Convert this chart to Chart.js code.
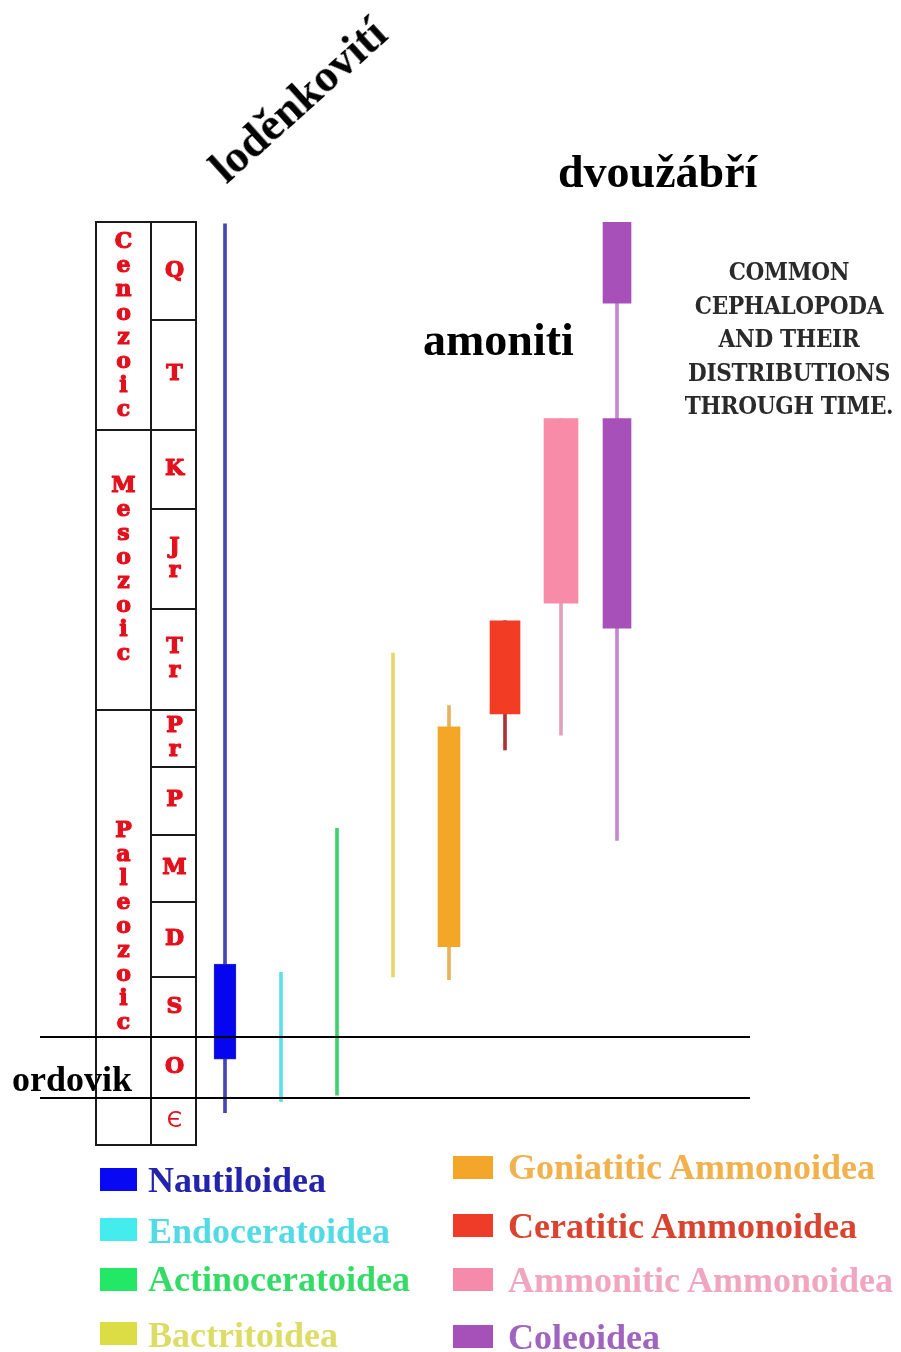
<!DOCTYPE html>
<html>
<head>
<meta charset="utf-8">
<script src="https://cdn.jsdelivr.net/npm/chart.js@4.4.1/dist/chart.umd.min.js"></script>
<style>
  html, body { margin:0; padding:0; background:#fff; }
  #wrap { position:relative; width:901px; height:1352px; overflow:hidden; background:#fff; }
  #c { position:absolute; left:0; top:0; }
  .t { position:absolute; white-space:nowrap; font-family:"Liberation Serif","Times New Roman",serif; font-weight:bold; color:#000; }
  .note { position:absolute; left:669px; top:255px; width:240px; text-align:center;
          font-family:"DejaVu Serif Condensed","DejaVu Serif",serif; font-weight:bold; font-size:24px;
          line-height:33.5px; color:#2a2a2a; letter-spacing:-0.3px; }
  .sw { position:absolute; }
  .lt { position:absolute; white-space:nowrap; font-family:"Liberation Serif","Times New Roman",serif;
        font-weight:bold; font-size:36px; line-height:36px; }
</style>
</head>
<body>
<div id="wrap">
  <canvas id="c" width="901" height="1352"></canvas>
  <div class="t" style="left:298px; top:100px; font-size:46px; line-height:46px; transform:translate(-50%,-50%) rotate(-42deg);">loděnkovití</div>
  <div class="t" style="left:558px; top:149px; font-size:46px; line-height:46px;">dvoužábří</div>
  <div class="t" style="left:423px; top:317px; font-size:46px; line-height:46px;">amoniti</div>
  <div class="t" style="left:12px; top:1061px; font-size:36px; line-height:36px;">ordovik</div>
  <div class="note">COMMON<br>CEPHALOPODA<br>AND THEIR<br>DISTRIBUTIONS<br>THROUGH TIME.</div>
  <div id="legend"></div>
</div>
<script>
// ---------------- DATA ----------------
// Taxa (categories), left to right
const taxa = ['Nautiloidea','Endoceratoidea','Actinoceratoidea','Bactritoidea',
              'Goniatitic Ammonoidea','Ceratitic Ammonoidea','Ammonitic Ammonoidea','Coleoidea'];

// Schematic stratigraphic position: 0 = base of Cambrian, 100 = present (top of column)
// Total known range of each taxon (thin line)
const rangeLow  = [3.5, 4.7, 5.4, 18.2, 17.9, 42.8, 44.4, 33.0];
const rangeHigh = [99.8, 18.7, 34.3, 53.3, 47.6, 56.8, 78.7, 100];

// Intervals of abundance (thick bars)
const abundanceTaxa = ['Nautiloidea','Goniatitic Ammonoidea','Ceratitic Ammonoidea',
                       'Ammonitic Ammonoidea','Coleoidea','Coleoidea'];
const abundanceLow  = [9.3, 21.5, 46.7, 58.7, 56.0, 91.2];
const abundanceHigh = [19.6, 45.3, 56.8, 78.7, 78.7, 100];

// Geological periods, bottom to top, with their base on the same schematic scale
const periods    = ['Є','O','S','D','M','P','Pr','Tr','Jr','K','T','Q'];
const periodBase = [0, 5.1, 11.7, 18.2, 26.3, 33.6, 41.0, 47.1, 58.1, 68.9, 77.5, 89.4];
const columnTop  = 100;
const eras       = ['Paleozoic','Mesozoic','Cenozoic'];
const eraBase    = [0, 47.1, 77.5];
const highlightedPeriod = 'O'; // ordovik

// ---------------- STYLES ----------------
const lineColors = ['#4646b2','#5fdfe6','#3fd170','#e6d86e','#e9b25c','#a83434','#e2a0ba','#c487d2'];
const barColors  = {'Nautiloidea':'#0505f0','Goniatitic Ammonoidea':'#f4a726','Ceratitic Ammonoidea':'#f23c24',
                    'Ammonitic Ammonoidea':'#f78ba8','Coleoidea':'#a750b9'};
const barWidths  = {'Nautiloidea':22,'Goniatitic Ammonoidea':22,'Ceratitic Ammonoidea':30,
                    'Ammonitic Ammonoidea':34,'Coleoidea':28};
const swatchColors = ['#0808f2','#44eced','#22e866','#dcdc44','#f4a62a','#ef3c28','#f58aaa','#a650ba'];
const textColors   = ['#2424aa','#52dbe4','#34db66','#dcdc66','#f1b14c','#d9432f','#f1a6bf','#a064bf'];
// legend layout: [swatchLeft, swatchTop, swatchW, swatchH, textLeft, baseline]
const legendLayout = [
  [100,1168,37,23,148,1192],[100,1218,37,23,148,1243],[100,1268,37,23,148,1291],[100,1322,37,23,148,1347],
  [453,1156,40,23,508,1179],[453,1214,40,23,508,1238],[453,1268,40,23,508,1292],[453,1325,40,23,508,1349]
];

// ---------------- LEGEND (HTML) ----------------
const lg = document.getElementById('legend');
taxa.forEach((t, i) => {
  const [sl, st, sw, sh, tl, bl] = legendLayout[i];
  const s = document.createElement('div');
  s.className = 'sw';
  s.style.cssText = `left:${sl}px;top:${st}px;width:${sw}px;height:${sh}px;background:${swatchColors[i]};`;
  lg.appendChild(s);
  const d = document.createElement('div');
  d.className = 'lt';
  d.style.cssText = `left:${tl}px;top:${bl - 30}px;color:${textColors[i]};`;
  d.textContent = t;
  lg.appendChild(d);
});

// ---------------- DATASETS ----------------
const datasets = [{
  label: 'range',
  data: taxa.map((t, i) => [rangeLow[i], rangeHigh[i]]),
  backgroundColor: lineColors,
  borderWidth: 0,
  barThickness: 3,
  order: 2
}];
[...new Set(abundanceTaxa)].forEach(t => {
  const pts = [];
  abundanceTaxa.forEach((a, i) => { if (a === t) pts.push({x: a, y: [abundanceLow[i], abundanceHigh[i]]}); });
  datasets.push({
    label: t,
    data: pts,
    backgroundColor: barColors[t],
    borderColor: t === 'Nautiloidea' ? '#2a2ab8' : barColors[t],
    borderWidth: t === 'Nautiloidea' ? 1 : 0,
    borderSkipped: false,
    barThickness: barWidths[t],
    order: 1
  });
});

// ---------------- GEOLOGIC COLUMN PLUGIN ----------------
const geoPlugin = {
  id: 'geo',
  afterDatasetsDraw(chart) {
    const y = chart.scales.y, ctx = chart.ctx;
    const colL = 96, colM = 151, colR = 196;
    const top = y.getPixelForValue(columnTop), bot = y.getPixelForValue(0);
    ctx.save();
    ctx.strokeStyle = '#1a1a1a';
    ctx.lineWidth = 2;
    ctx.beginPath();
    ctx.rect(colL, top, colR - colL, bot - top);
    ctx.moveTo(colM, top); ctx.lineTo(colM, bot);
    periodBase.forEach((b, i) => { if (i > 0) { const p = Math.round(y.getPixelForValue(b)); ctx.moveTo(colM, p); ctx.lineTo(colR, p); } });
    eraBase.forEach((b, i) => { if (i > 0) { const p = Math.round(y.getPixelForValue(b)); ctx.moveTo(colL, p); ctx.lineTo(colM, p); } });
    ctx.stroke();

    // labels (heavy red letters, stacked vertically)
    ctx.fillStyle = '#e3111d';
    ctx.strokeStyle = '#e3111d';
    ctx.lineWidth = 1.2;
    ctx.lineJoin = 'round';
    ctx.textAlign = 'center';
    ctx.textBaseline = 'middle';
    const step = 24;
    const drawStack = (text, cx, cy, heavy) => {
      const chars = [...text];
      chars.forEach((ch, k) => {
        const yy = cy + (k - (chars.length - 1) / 2) * step;
        ctx.fillText(ch, cx, yy);
        if (heavy) ctx.strokeText(ch, cx, yy);
      });
    };
    periods.forEach((p, i) => {
      const lo = periodBase[i], hi = i + 1 < periods.length ? periodBase[i + 1] : columnTop;
      const cy = (y.getPixelForValue(lo) + y.getPixelForValue(hi)) / 2;
      const isCamb = p === 'Є';
      ctx.font = isCamb ? '22px "DejaVu Sans"' : 'bold 22px "DejaVu Serif"';
      drawStack(p, (colM + colR) / 2 + 1, cy, !isCamb);
    });
    ctx.font = 'bold 22px "DejaVu Serif"';
    eras.forEach((e, i) => {
      const lo = eraBase[i], hi = i + 1 < eras.length ? eraBase[i + 1] : columnTop;
      const cy = (y.getPixelForValue(lo) + y.getPixelForValue(hi)) / 2;
      drawStack(e, (colL + colM) / 2, cy, true);
    });

    // ordovik boundary lines
    const oi = periods.indexOf(highlightedPeriod);
    ctx.strokeStyle = '#000';
    ctx.lineWidth = 2;
    ctx.beginPath();
    [periodBase[oi], periodBase[oi + 1]].forEach(v => {
      const p = Math.round(y.getPixelForValue(v));
      ctx.moveTo(40, p); ctx.lineTo(750, p);
    });
    ctx.stroke();
    ctx.restore();
  }
};

new Chart(document.getElementById('c'), {
  type: 'bar',
  data: { labels: taxa, datasets },
  options: {
    responsive: false,
    animation: false,
    devicePixelRatio: 1,
    layout: { padding: { left: 197, right: 256, top: 222, bottom: 207 } },
    datasets: { bar: { grouped: false } },
    scales: {
      x: { display: false, offset: true },
      y: { display: false, min: 0, max: 100 }
    },
    plugins: { legend: { display: false }, tooltip: { enabled: false } }
  },
  plugins: [geoPlugin]
});
</script>
</body>
</html>
